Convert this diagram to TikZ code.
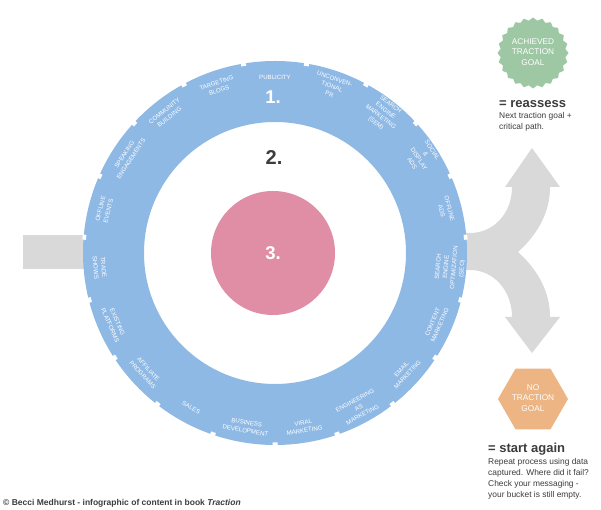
\documentclass[tikz,border=0pt]{standalone}
\usepackage{fontspec}
\setmainfont{Liberation Sans}
\usetikzlibrary{shapes.geometric,calc}
\definecolor{ringblue}{RGB}{143,185,229}
\definecolor{corepink}{RGB}{224,142,166}
\definecolor{badgegreen}{RGB}{158,199,163}
\definecolor{hexorange}{RGB}{236,181,131}
\definecolor{arrowgray}{RGB}{217,217,217}
\definecolor{darktext}{RGB}{60,60,60}
\begin{document}
\begin{tikzpicture}[x=1pt,y=1pt,
  seglabel/.style={font=\fontsize{6.1}{8}\selectfont, text=white, align=center, inner sep=0pt},
  bignum/.style={font=\fontsize{18.5}{18.5}\selectfont\bfseries, inner sep=0pt},
  badgetext/.style={font=\fontsize{8.3}{10.5}\selectfont, text=white, align=center, inner sep=0pt},
  headline/.style={font=\fontsize{13}{14}\selectfont\bfseries, text=darktext, anchor=base west, inner sep=0pt},
  bodytext/.style={font=\fontsize{8.4}{11}\selectfont, text=darktext, anchor=base west, inner sep=0pt, align=left}]
\useasboundingbox (0,0) rectangle (601,510);
\fill[white] (0,0) rectangle (601,510);
\coordinate (C) at (275,257);
% left input stub
\fill[arrowgray] (23,241) rectangle (100,275);
% split arrow on the right
\fill[arrowgray] (440,277) -- (470,277) .. controls (494,277) and (512,297) .. (512,323)
  -- (505,323) -- (532,362) -- (560,323) -- (550,323)
  .. controls (550,300) and (540,278) .. (518,258)
  .. controls (540,238) and (550,216) .. (550,193)
  -- (560,193) -- (532,157) -- (505,193) -- (512,193)
  .. controls (512,219) and (494,240) .. (470,240) -- (440,240) -- cycle;
% ring
\fill[ringblue, even odd rule] (C) circle (192) (C) circle (131);
% notches between segments
\foreach \k in {0,...,18}{
  \pgfmathsetmacro\nang{80.53-18.947*\k}
  \begin{scope}[shift={(C)}, rotate=\nang]
    \fill[white] (189.5,-2.5) rectangle (193,2.5);
  \end{scope}
}
% segment labels
\foreach \ang/\txt [count=\i] in {
  90/PUBLICITY,
  71.05/{UNCONVEN-\\TIONAL\\PR},
  52.1/{SEARCH\\ENGINE\\MARKETING\\(SEM)},
  33.16/{SOCIAL\\\&\\DISPLAY\\ADS},
  14.2/{OFFLINE\\ADS},
  -4.74/{SEARCH\\ENGINE\\OPTIMIZATION\\(SEO)},
  -23.68/{CONTENT\\MARKETING},
  -42.63/{EMAIL\\MARKETING},
  -61.58/{ENGINEERING\\AS\\MARKETING},
  -80.53/{VIRAL\\MARKETING},
  -99.47/{BUSINESS\\DEVELOPMENT},
  -118.42/SALES,
  -137.37/{AFFILIATE\\PROGRAMS},
  -156.32/{EXISTING\\PLATFORMS},
  -175.26/{TRADE\\SHOWS},
  165.79/{OFFLINE\\EVENTS},
  146.84/{SPEAKING\\ENGAGEMENTS},
  127.89/{COMMUNITY\\BUILDING},
  108.95/{TARGETING\\BLOGS}}{
  \pgfmathsetmacro\rot{\ang>0 ? \ang-90 : \ang+90}
  \node[seglabel, rotate=\rot] (seg\i) at ($(C)+(\ang:176)$) {\txt};
}
% core
\node[circle, fill=corepink, minimum size=124, inner sep=0pt] (core) at (273,257) {};
\node[bignum, text=white] (n1) at (273,413) {1.};
\node[bignum, text=darktext, font=\fontsize{20}{20}\selectfont\bfseries] (n2) at (274,352) {2.};
\node[bignum, text=white] (n3) at (273,257) {3.};
% achieved badge
\node[star, star points=24, star point ratio=1.09, fill=badgegreen, minimum size=71, inner sep=0pt] (achieved) at (533,457) {};
\node[badgetext] (achievedtext) at (533,458) {ACHIEVED\\TRACTION\\GOAL};
\node[headline] (reassess) at (499,402) {= reassess};
\node[bodytext] (reassessbody) at (499,380) {Next traction goal +\\critical path.};
% no traction hexagon
\node[regular polygon, regular polygon sides=6, minimum size=70, fill=hexorange, inner sep=0pt] (notraction) at (533,111) {};
\node[badgetext] (notractiontext) at (533,112) {NO\\TRACTION\\GOAL};
\node[headline] (startagain) at (488,57) {= start again};
\node[bodytext] (startbody) at (488,12) {Repeat process using data\\captured. Where did it fail?\\Check your messaging -\\your bucket is still empty.};
% footer
\node[anchor=base west, inner sep=0pt, text=darktext, font=\fontsize{8.5}{9}\selectfont\bfseries] (footer) at (3,4) {© Becci Medhurst - infographic of content in book \textit{Traction}};
\end{tikzpicture}
\end{document}
